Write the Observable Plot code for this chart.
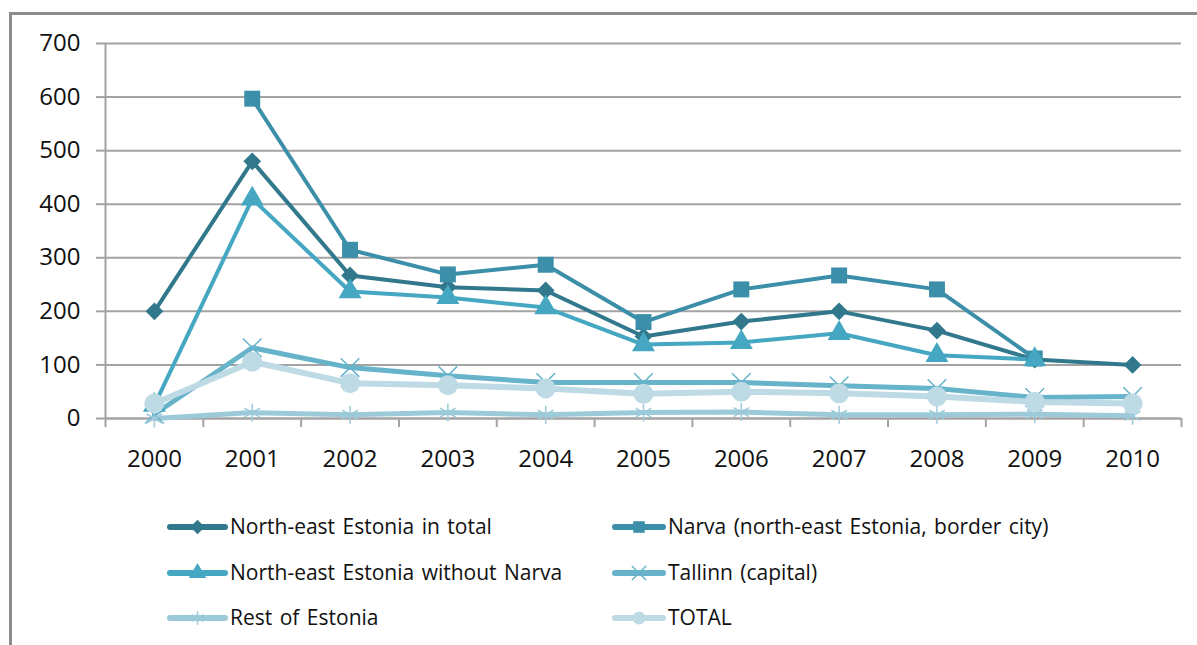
<!DOCTYPE html>
<html><head><meta charset="utf-8">
<script src="https://cdn.jsdelivr.net/npm/d3@7"></script>
<script src="https://cdn.jsdelivr.net/npm/@observablehq/plot@0.6"></script>
<style>
body{margin:0;background:#fff;font-family:"Open Sans",sans-serif;}
#wrap{position:relative;width:1197px;height:645px;overflow:hidden;background:#fff}
#frame{position:absolute;left:9px;top:12px;width:1300px;height:700px;border-left:3px solid #8c8c8c;border-top:3px solid #8c8c8c}
#chart{position:absolute;left:0;top:0}
#legend{position:absolute;left:0;top:480px}
</style></head><body>
<div id="wrap"><div id="frame"></div><div id="chart"></div><div id="legend"></div></div>
<script>
const years = [2000, 2001, 2002, 2003, 2004, 2005, 2006, 2007, 2008, 2009, 2010];
const neTotal        = [200, 480, 267, 245, 239, 153, 181, 200, 164, 110, 100];
const narva          = [null, 597, 315, 269, 287, 180, 241, 267, 241, 112, null];
const neWithoutNarva = [25, 410, 237, 226, 207, 138, 142, 159, 118, 110, null];
const tallinn        = [8, 132, 95, 80, 67, 67, 67, 61, 56, 39, 41];
const restOfEstonia  = [0, 11, 7, 11, 7, 11, 12, 7, 7, 8, 5];
const total          = [28, 106, 66, 62, 56, 46, 50, 47, 41, 31, 28];
const yTicks = [0, 100, 200, 300, 400, 500, 600, 700];
const seriesNames = [
  "North-east Estonia in total",
  "Narva (north-east Estonia, border city)",
  "North-east Estonia  without Narva",
  "Tallinn (capital)",
  "Rest of Estonia",
  "TOTAL"
];
const seriesValues = [neTotal, narva, neWithoutNarva, tallinn, restOfEstonia, total];
const seriesColors = ["#31788c", "#3b8fa8", "#45a7c1", "#66b3ca", "#9ccad9", "#bddae5"];
const seriesSymbols = ["diamond2", "square", "triangle", "times", "asterisk", "circle"];
const d3Symbols = {diamond2: d3.symbolDiamond2, square: d3.symbolSquare, triangle: d3.symbolTriangle, times: d3.symbolTimes, asterisk: d3.symbolAsterisk, circle: d3.symbolCircle};
const seriesR = [8, 9, 8.5, 8.5, 8.5, 10];
const seriesWidth = [4, 4, 4, 5, 5, 6];
const strokeOnly = ["times", "asterisk"];

const series = seriesNames.map((name, i) => ({
  name, color: seriesColors[i], symbol: seriesSymbols[i], r: seriesR[i], width: seriesWidth[i],
  data: years.map((year, j) => ({year, value: seriesValues[i][j], series: name})).filter(d => d.value != null)
}));

const boundaries = d3.range(years.length + 1).map(i => years[0] - 0.5 + i);

const marks = [
  Plot.gridY(yTicks, {stroke: "#a3a3a3", strokeOpacity: 1, strokeWidth: 2}),
  Plot.axisY(yTicks, {tickSize: 9, tickPadding: 16, stroke: "#a3a3a3", strokeWidth: 2, fontSize: 24, fill: "#111", label: null}),
  Plot.axisX(boundaries, {tickSize: 9, tickFormat: () => "", stroke: "#a3a3a3", strokeWidth: 2, label: null}),
  Plot.axisX(years, {tickSize: 0, tickPadding: 31, tickFormat: d => String(d), fontSize: 24, fill: "#111", label: null}),
  Plot.ruleX([boundaries[0]], {y1: 0, y2: 700, stroke: "#a3a3a3", strokeWidth: 2}),
  Plot.ruleY([0], {stroke: "#a3a3a3", strokeWidth: 2})
];
for (const s of series) {
  marks.push(Plot.line(s.data, {x: "year", y: "value", stroke: s.color, strokeWidth: s.width, strokeLinejoin: "round"}));
}
for (const s of series) {
  const so = strokeOnly.includes(s.symbol);
  marks.push(Plot.dot(s.data, {x: "year", y: "value", symbol: () => s.symbol, r: s.r,
    fill: so ? "none" : s.color, stroke: so ? s.color : "none", strokeWidth: so ? 1.5 : 0}));
}

const chart = Plot.plot({
  width: 1197, height: 480,
  marginLeft: 105, marginRight: 16, marginTop: 43, marginBottom: 62,
  style: {fontFamily: "'Open Sans', sans-serif", background: "transparent", overflow: "visible"},
  x: {type: "linear", domain: [boundaries[0], boundaries[boundaries.length - 1]], axis: null},
  y: {domain: [0, 700], axis: null},
  symbol: {type: "identity"},
  marks
});
document.getElementById("chart").appendChild(chart);

// Legend
const lw = 1197, lh = 165;
const leg = d3.select("#legend").append("svg").attr("width", lw).attr("height", lh)
  .style("font-family", "'Open Sans', sans-serif");
const colX = [[170, 225, 230], [615, 663, 668]];
const rowY = [47, 93, 138];
series.forEach((s, i) => {
  const c = colX[i % 2], y = rowY[Math.floor(i / 2)];
  const g = leg.append("g");
  g.append("line").attr("x1", c[0]).attr("x2", c[1]).attr("y1", y).attr("y2", y)
    .attr("stroke", s.color).attr("stroke-width", 6).attr("stroke-linecap", "round");
  const so = strokeOnly.includes(s.symbol);
  g.append("path").attr("transform", `translate(${(c[0] + c[1]) / 2},${y})`)
    .attr("d", d3.symbol(d3Symbols[s.symbol], Math.PI * 6.5 * 6.5)())
    .attr("fill", so ? "none" : s.color).attr("stroke", so ? s.color : "none").attr("stroke-width", 1.5);
  g.append("text").attr("x", c[2]).attr("y", y).attr("dy", "0.35em")
    .attr("font-size", 21).attr("word-spacing", "2px").attr("fill", "#111").text(s.name);
});
</script>
</body></html>
